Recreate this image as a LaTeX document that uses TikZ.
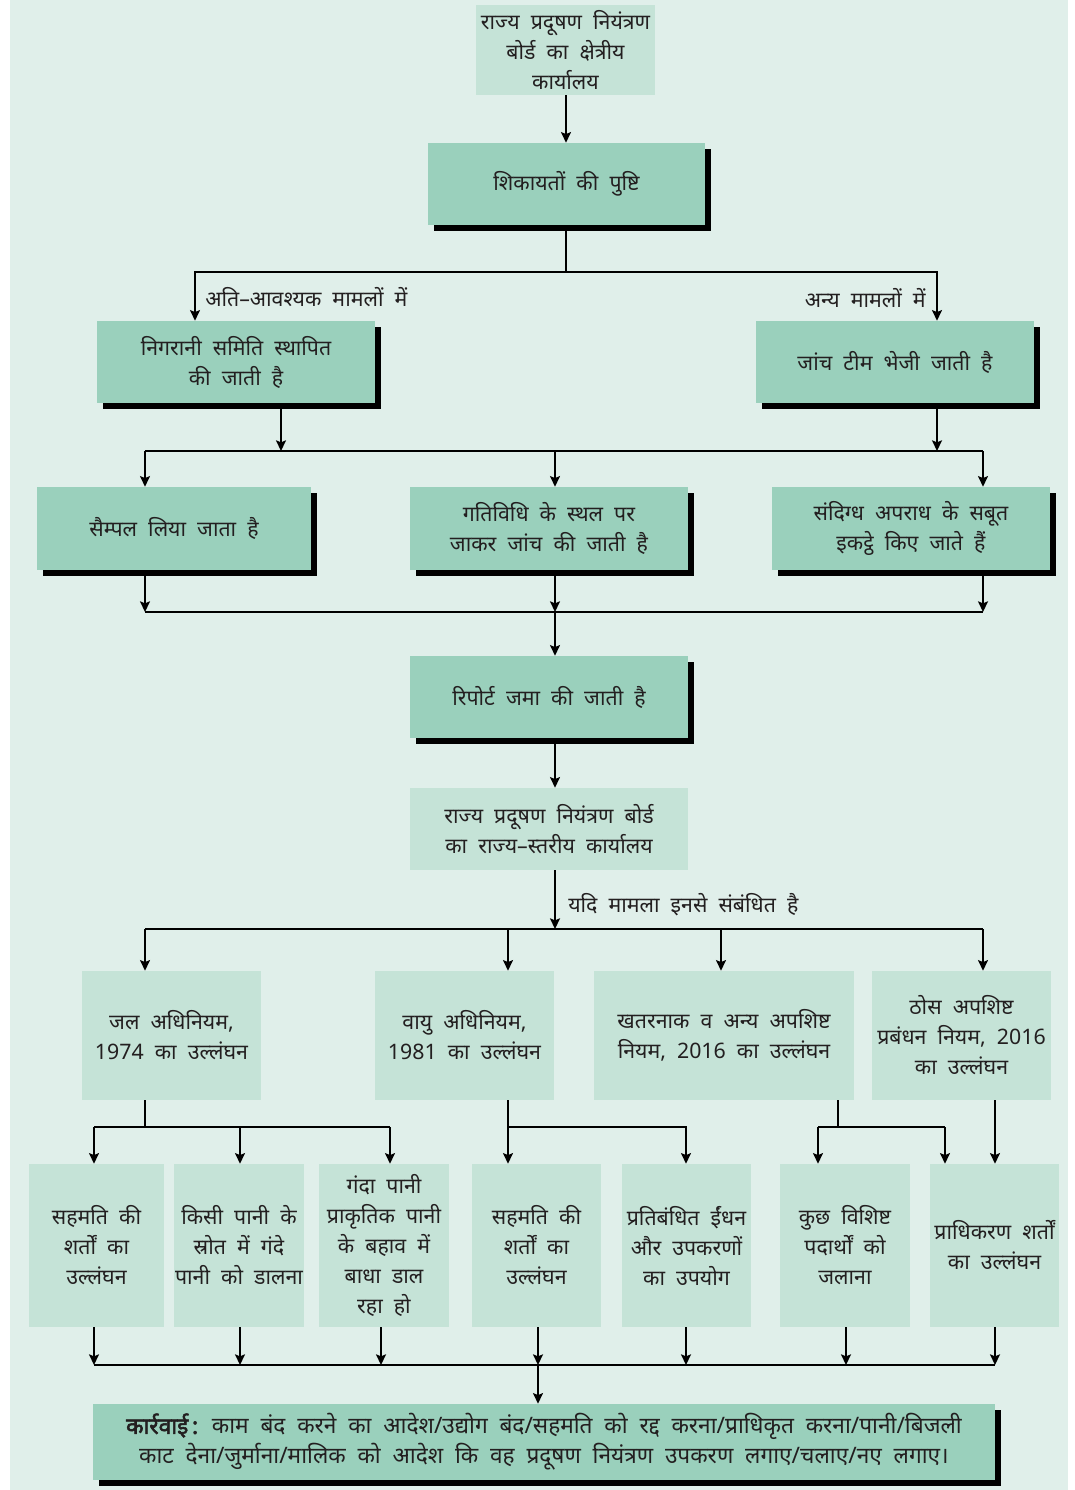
\documentclass[tikz,border=0pt]{standalone}
\usepackage{fontspec}
\setmainfont{Noto Sans}[Script=Devanagari, WordSpace=2, BoldFont={Noto Sans}, BoldFeatures={FakeBold=2.5}]
\usetikzlibrary{arrows.meta,shadows}
\definecolor{bgc}{HTML}{E0EFEA}
\definecolor{darkg}{HTML}{9AD0BC}
\definecolor{lightg}{HTML}{C5E3D7}
\definecolor{ink}{HTML}{231F20}
\tikzset{
  sz/.style 2 args={minimum width=#1*0.75pt, minimum height=#2*0.75pt},
  basebox/.style={align=center, inner sep=0pt, text=ink, font=\fontsize{16}{22.5}\selectfont},
  darkbox/.style={basebox, fill=darkg, drop shadow={shadow xshift=4.5pt, shadow yshift=-4.5pt, fill=black, opacity=1}},
  lightbox/.style={basebox, fill=lightg},
  lbl/.style={inner sep=0pt, text=ink, font=\fontsize{16}{22.5}\selectfont},
  conn/.style={line width=1.1pt, draw=black},
  arr/.style={conn, -{Stealth[length=8pt,width=7.5pt,inset=1.5pt]}}
}
\begin{document}
\begin{tikzpicture}[x=0.75pt,y=-0.75pt]
\useasboundingbox (0,0) rectangle (1075,1490);
\fill[bgc] (10,0) rectangle (1068,1490);

% nodes
\node[lightbox, sz={179}{90}] (top) at (565.5,50) {राज्य प्रदूषण नियंत्रण\\बोर्ड का क्षेत्रीय\\कार्यालय};
\node[darkbox, sz={277}{82}] (conf) at (566.5,184) {शिकायतों की पुष्टि};
\node[darkbox, sz={278}{82}] (mon) at (236,362) {निगरानी समिति स्थापित\\की जाती है};
\node[darkbox, sz={278}{82}] (team) at (895,362) {जांच टीम भेजी जाती है};
\node[darkbox, sz={274}{83}] (samp) at (174,528.5) {सैम्पल लिया जाता है};
\node[darkbox, sz={278}{83}] (site) at (549,528.5) {गतिविधि के स्थल पर\\जाकर जांच की जाती है};
\node[darkbox, sz={278}{83}] (evid) at (911,528.5) {संदिग्ध अपराध के सबूत\\इकट्ठे किए जाते हैं};
\node[darkbox, sz={278}{82}] (rep) at (549,697) {रिपोर्ट जमा की जाती है};
\node[lightbox, sz={278}{82}] (state) at (549,829) {राज्य प्रदूषण नियंत्रण बोर्ड\\का राज्य–स्तरीय कार्यालय};

\node[lightbox, sz={179}{129}] (water) at (171.5,1035.5) {जल अधिनियम,\\1974 का उल्लंघन};
\node[lightbox, sz={179}{129}] (air) at (464.5,1035.5) {वायु अधिनियम,\\1981 का उल्लंघन};
\node[lightbox, sz={260}{129}] (haz) at (724,1035.5) {खतरनाक व अन्य अपशिष्ट\\नियम, 2016 का उल्लंघन};
\node[lightbox, sz={179}{129}] (solid) at (961.5,1035.5) {ठोस अपशिष्ट\\प्रबंधन नियम, 2016\\का उल्लंघन};

\node[lightbox, sz={135}{163}] (v1) at (96.5,1245.5) {सहमति की\\शर्तों का\\उल्लंघन};
\node[lightbox, sz={130}{163}] (v2) at (239,1245.5) {किसी पानी के\\स्रोत में गंदे\\पानी को डालना};
\node[lightbox, sz={130}{163}] (v3) at (384,1245.5) {गंदा पानी\\प्राकृतिक पानी\\के बहाव में\\बाधा डाल\\रहा हो};
\node[lightbox, sz={129}{163}] (v4) at (536.5,1245.5) {सहमति की\\शर्तों का\\उल्लंघन};
\node[lightbox, sz={129}{163}] (v5) at (686.5,1245.5) {प्रतिबंधित ईंधन\\और उपकरणों\\का उपयोग};
\node[lightbox, sz={130}{163}] (v6) at (845,1245.5) {कुछ विशिष्ट\\पदार्थों को\\जलाना};
\node[lightbox, sz={129}{163}] (v7) at (994.5,1245.5) {प्राधिकरण शर्तों\\का उल्लंघन};

\node[darkbox, sz={902}{76}, font=\fontsize{17}{22.5}\selectfont] (act) at (544,1442) {\textbf{कार्रवाई\,:} काम बंद करने का आदेश/उद्योग बंद/सहमति को रद्द करना/प्राधिकृत करना/पानी/बिजली\\काट देना/जुर्माना/मालिक को आदेश कि वह प्रदूषण नियंत्रण उपकरण लगाए/चलाए/नए लगाए।};

% labels
\node[lbl, anchor=west] (lblL) at (205,297) {अति–आवश्यक मामलों में};
\node[lbl, anchor=east] (lblR) at (926,298) {अन्य मामलों में};
\node[lbl, anchor=west] (lblS) at (568,905) {यदि मामला इनसे संबंधित है};

% connectors
\coordinate (tt) at (566,95);
\draw[arr] (tt |- top.south) -- (tt |- conf.north);
\coordinate (t1) at (566,272);
\coordinate (cL) at (195,272);
\coordinate (cR) at (937,272);
\draw[conn] (t1 |- conf.south) -- (t1);
\draw[arr] (t1) -- (cL) -- (cL |- mon.north);
\draw[arr] (t1) -- (cR) -- (cR |- team.north);

\coordinate (k1) at (281,451);
\coordinate (k2) at (937,451);
\coordinate (h3a) at (145,451);
\coordinate (h3b) at (555,451);
\coordinate (h3c) at (983,451);
\draw[conn] (h3a) -- (h3c);
\draw[arr] (k1 |- mon.south) -- (k1);
\draw[arr] (k2 |- team.south) -- (k2);
\draw[arr] (h3a) -- (h3a |- samp.north);
\draw[arr] (h3b) -- (h3b |- site.north);
\draw[arr] (h3c) -- (h3c |- evid.north);

\coordinate (m3a) at (145,612);
\coordinate (m3b) at (555,612);
\coordinate (m3c) at (983,612);
\draw[conn] (m3a) -- (m3c);
\draw[arr] (m3a |- samp.south) -- (m3a);
\draw[arr] (m3b |- site.south) -- (m3b);
\draw[arr] (m3c |- evid.south) -- (m3c);
\draw[arr] (m3b) -- (m3b |- rep.north);
\draw[arr] (m3b |- rep.south) -- (m3b |- state.north);

\coordinate (s1) at (555,929);
\coordinate (s4a) at (145,929);
\coordinate (s4b) at (508,929);
\coordinate (s4c) at (721,929);
\coordinate (s4d) at (983,929);
\draw[arr] (s1 |- state.south) -- (s1);
\draw[conn] (s4a) -- (s4d);
\draw[arr] (s4a) -- (s4a |- water.north);
\draw[arr] (s4b) -- (s4b |- air.north);
\draw[arr] (s4c) -- (s4c |- haz.north);
\draw[arr] (s4d) -- (s4d |- solid.north);

% row 5 to row 6
\coordinate (qa) at (145,1127);
\coordinate (qa1) at (94,1127);
\coordinate (qa2) at (240,1127);
\coordinate (qa3) at (390,1127);
\draw[conn] (qa |- water.south) -- (qa);
\draw[conn] (qa1) -- (qa3);
\draw[arr] (qa1) -- (qa1 |- v1.north);
\draw[arr] (qa2) -- (qa2 |- v2.north);
\draw[arr] (qa3) -- (qa3 |- v3.north);

\coordinate (qb) at (508,1127);
\coordinate (qb2) at (686,1127);
\draw[arr] (qb |- air.south) -- (qb |- v4.north);
\draw[arr] (qb) -- (qb2) -- (qb2 |- v5.north);

\coordinate (qc) at (838,1127);
\coordinate (qc1) at (818,1127);
\coordinate (qc2) at (945,1127);
\draw[conn] (qc |- haz.south) -- (qc);
\draw[conn] (qc1) -- (qc2);
\draw[arr] (qc1) -- (qc1 |- v6.north);
\draw[arr] (qc2) -- (qc2 |- v7.north);

\coordinate (qd) at (995,1127);
\draw[arr] (qd |- solid.south) -- (qd |- v7.north);

% row 6 to action
\coordinate (z1) at (94,1365);
\coordinate (z2) at (240,1365);
\coordinate (z3) at (381,1365);
\coordinate (z4) at (538,1365);
\coordinate (z5) at (686,1365);
\coordinate (z6) at (846,1365);
\coordinate (z7) at (995,1365);
\draw[conn] (z1) -- (z7);
\draw[arr] (z1 |- v1.south) -- (z1);
\draw[arr] (z2 |- v2.south) -- (z2);
\draw[arr] (z3 |- v3.south) -- (z3);
\draw[arr] (z4 |- v4.south) -- (z4);
\draw[arr] (z5 |- v5.south) -- (z5);
\draw[arr] (z6 |- v6.south) -- (z6);
\draw[arr] (z7 |- v7.south) -- (z7);
\draw[arr] (z4) -- (z4 |- act.north);
\end{tikzpicture}
\end{document}
